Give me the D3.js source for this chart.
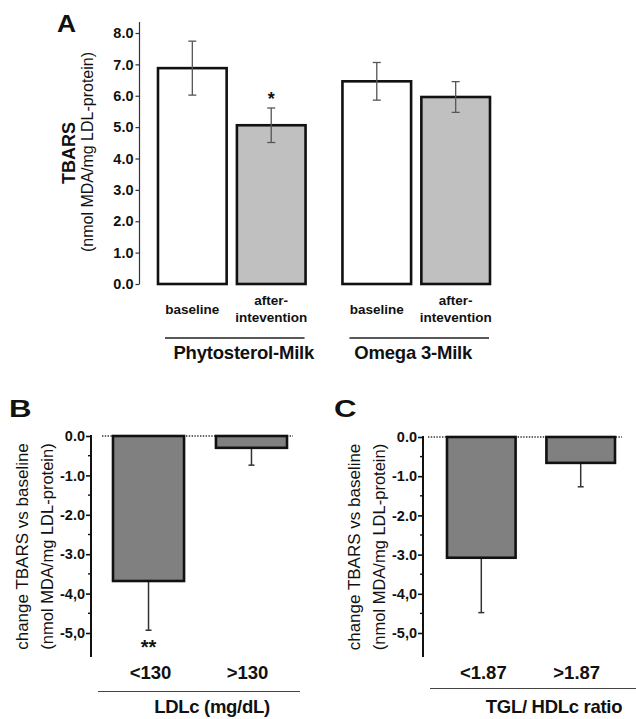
<!DOCTYPE html>
<html>
<head>
<meta charset="utf-8">
<script src="https://cdn.jsdelivr.net/npm/d3@7"></script>
<style>
  html, body { margin: 0; padding: 0; background: #fff; }
  svg { display: block; }
  text { font-family: "Liberation Sans", Arial, sans-serif; fill: #111; }
</style>
</head>
<body>
<div id="chart"></div>
<script>
// Panel A: TBARS by milk and period
const groupsA   = ['Phytosterol-Milk', 'Omega 3-Milk'];
const periodsA  = ['baseline', 'after-intevention'];
const meansA    = [[6.88, 5.06], [6.46, 5.96]];
const errorsA   = [[0.86, 0.55], [0.60, 0.49]];
const ticksA    = [0, 1, 2, 3, 4, 5, 6, 7, 8];

// Panel B: change by LDLc
const catsB     = ['<130', '>130'];
const changeB   = [-3.68, -0.30];
const errB      = [1.25, 0.44];

// Panel C: change by TGL/HDLc ratio
const catsC     = ['<1.87', '>1.87'];
const changeC   = [-3.08, -0.66];
const errC      = [1.40, 0.61];

const ticksBC      = [0, -1, -2, -3, -4, -5];
const tickLabelsBC = ['0.0', '-1.0', '-2.0', '-3.0', '-4,0', '-5,0'];
const minorBC      = [-0.5, -1.5, -2.5, -3.5, -4.5];

const W = 636, H = 719;
const svg = d3.select('#chart').append('svg')
  .attr('width', W).attr('height', H);

// ---------- Panel A ----------
const yA = d3.scaleLinear().domain([0, 8]).range([284, 33]);
const gx = d3.scaleBand().domain(groupsA).range([158, 490]).paddingInner(0.2);
const px = d3.scaleBand().domain(periodsA).range([0, gx.bandwidth()]).paddingInner(0.13);
const groupLabelShift = [12, -3];   // group titles sit a little off-centre in the original

const gA = svg.append('g');

gA.append('text').attr('transform', 'translate(57,32) scale(1.1,1)')
  .attr('font-size', 24).attr('font-weight', 'bold').text('A');

// y axis
gA.append('line').attr('x1', 139.5).attr('x2', 139.5).attr('y1', 22).attr('y2', yA(0))
  .attr('stroke', '#333').attr('stroke-width', 1.2);
const axA = gA.append('g').attr('transform', 'translate(139.5,0)')
  .call(d3.axisLeft(yA).tickValues(ticksA).tickSize(4).tickFormat(d3.format('.1f')));
axA.select('.domain').remove();
axA.selectAll('.tick line').attr('stroke', '#333').attr('stroke-width', 1.2);
axA.selectAll('.tick text').attr('font-size', 14.5).attr('font-weight', 'bold')
  .attr('font-family', '"Liberation Sans", Arial, sans-serif').attr('fill', '#111').attr('x', -6);

// y label
gA.append('text').attr('transform', `translate(75,${(yA(0) + 22) / 2}) rotate(-90)`)
  .attr('text-anchor', 'middle').attr('font-size', 18).attr('font-weight', 'bold').text('TBARS');
gA.append('text').attr('transform', `translate(93,${(yA(0) + 22) / 2 - 1}) rotate(-90)`)
  .attr('text-anchor', 'middle').attr('font-size', 16).text('(nmol MDA/mg LDL-protein)');

groupsA.forEach((grp, gi) => {
  const g0 = gx(grp);
  periodsA.forEach((per, pi) => {
    const x0 = g0 + px(per), bw = px.bandwidth();
    const v = meansA[gi][pi], e = errorsA[gi][pi];
    gA.append('rect')
      .attr('x', x0).attr('y', yA(v))
      .attr('width', bw).attr('height', yA(0) - yA(v))
      .attr('fill', pi === 0 ? '#fff' : '#c0c0c0')
      .attr('stroke', '#111').attr('stroke-width', 2.6);
    const cx = x0 + bw / 2;
    gA.append('line').attr('x1', cx).attr('x2', cx).attr('y1', yA(v + e)).attr('y2', yA(v - e))
      .attr('stroke', '#555').attr('stroke-width', 1.3);
    [v + e, v - e].forEach(t => gA.append('line')
      .attr('x1', cx - 4).attr('x2', cx + 4).attr('y1', yA(t)).attr('y2', yA(t))
      .attr('stroke', '#555').attr('stroke-width', 1.3));
    if (gi === 0 && pi === 1) {
      gA.append('text').attr('x', cx).attr('y', yA(v + e) - 3)
        .attr('text-anchor', 'middle').attr('font-size', 18).attr('font-weight', 'bold').text('*');
    }
    // category labels
    const lab = gA.append('text').attr('text-anchor', 'middle')
      .attr('font-family', '"Open Sans", sans-serif').attr('font-weight', 600).attr('font-size', 13.5);
    if (per === 'baseline') {
      lab.attr('x', cx).attr('y', 314).text('baseline');
    } else {
      lab.append('tspan').attr('x', cx).attr('y', 305).text('after-');
      lab.append('tspan').attr('x', cx).attr('y', 322).text('intevention');
    }
  });
  gA.append('line').attr('x1', g0 + 7).attr('x2', g0 + gx.bandwidth() - 1)
    .attr('y1', 338).attr('y2', 338).attr('stroke', '#222').attr('stroke-width', 1.3);
  gA.append('text').attr('x', g0 + gx.bandwidth() / 2 + groupLabelShift[gi]).attr('y', 359)
    .attr('text-anchor', 'middle').attr('font-size', 18.5).attr('font-weight', 'bold')
    .attr('letter-spacing', -0.2).text(grp);
});

// ---------- Panels B and C ----------
function changePanel(opt) {
  const g = svg.append('g');
  const y = d3.scaleLinear().domain([0, -5]).range([opt.y0, 633]);
  const x = d3.scaleBand().domain(opt.cats).range(opt.xr).paddingInner(0.31);

  g.append('text').attr('transform', `translate(${opt.letterX},417) scale(1.3,1)`)
    .attr('font-size', 24).attr('font-weight', 'bold').text(opt.letter);

  // dotted zero line
  g.append('line').attr('x1', opt.dot[0]).attr('x2', opt.dot[1])
    .attr('y1', y(0)).attr('y2', y(0))
    .attr('stroke', '#333').attr('stroke-width', 1.3).attr('stroke-dasharray', '1.4 1.4');

  // axis
  g.append('line').attr('x1', opt.axX).attr('x2', opt.axX).attr('y1', y(0) - 1).attr('y2', 657)
    .attr('stroke', '#111').attr('stroke-width', 2);
  const ax = g.append('g').attr('transform', `translate(${opt.axX},0)`)
    .call(d3.axisLeft(y).tickValues(ticksBC).tickSize(5).tickFormat((d, i) => tickLabelsBC[i]));
  ax.select('.domain').remove();
  ax.selectAll('.tick line').attr('stroke', '#111').attr('stroke-width', 1.6);
  ax.selectAll('.tick text').attr('font-size', 14.5).attr('font-weight', 'bold')
    .attr('font-family', '"Liberation Sans", Arial, sans-serif').attr('fill', '#111').attr('x', -6);
  minorBC.forEach(m => g.append('line')
    .attr('x1', opt.axX - 3).attr('x2', opt.axX).attr('y1', y(m)).attr('y2', y(m))
    .attr('stroke', '#111').attr('stroke-width', 1.4));

  // y label
  const yc = (y(0) + 657) / 2;
  g.append('text').attr('transform', `translate(${opt.axX - 63},${yc}) rotate(-90)`)
    .attr('text-anchor', 'middle').attr('font-size', 17).text('change TBARS vs baseline');
  g.append('text').attr('transform', `translate(${opt.axX - 38},${yc}) rotate(-90)`)
    .attr('text-anchor', 'middle').attr('font-size', 16.5).text('(nmol MDA/mg LDL-protein)');

  opt.cats.forEach((c, i) => {
    const v = opt.vals[i], e = opt.errs[i];
    const x0 = x(c), bw = x.bandwidth(), cx = x0 + bw / 2;
    // error bar (downward only)
    g.append('line').attr('x1', cx).attr('x2', cx).attr('y1', y(v)).attr('y2', y(v - e))
      .attr('stroke', '#333').attr('stroke-width', 1.5);
    g.append('line').attr('x1', cx - 3).attr('x2', cx + 3).attr('y1', y(v - e)).attr('y2', y(v - e))
      .attr('stroke', '#333').attr('stroke-width', 1.5);
    g.append('rect').attr('x', x0).attr('y', y(0))
      .attr('width', bw).attr('height', y(v) - y(0))
      .attr('fill', '#808080').attr('stroke', '#111').attr('stroke-width', 2.6);
    g.append('text').attr('x', cx + (i === 0 ? 2 : -4)).attr('y', 679)
      .attr('text-anchor', 'middle').attr('font-size', 18.5).attr('font-weight', 'bold').text(c);
    if (opt.star && i === 0) {
      g.append('text').attr('x', cx).attr('y', y(v - e) + 24)
        .attr('text-anchor', 'middle').attr('font-size', 20).attr('font-weight', 'bold').text('**');
    }
  });

  g.append('line').attr('x1', opt.line[0]).attr('x2', opt.line[1])
    .attr('y1', opt.line[2]).attr('y2', opt.line[2]).attr('stroke', '#444').attr('stroke-width', 1.2);
  g.append('text').attr('x', opt.titleX).attr('y', 713)
    .attr('text-anchor', 'middle').attr('font-size', 18.5).attr('font-weight', 'bold')
    .attr('letter-spacing', opt.ls).text(opt.title);
}

changePanel({
  letter: 'B', letterX: 9, cats: catsB, vals: changeB, errs: errB,
  y0: 436, xr: [113, 287], axX: 91, dot: [102, 293], star: true,
  line: [98, 300, 691.5], title: 'LDLc (mg/dL)', titleX: 212, ls: -0.3
});
changePanel({
  letter: 'C', letterX: 334, cats: catsC, vals: changeC, errs: errC,
  y0: 437, xr: [447, 615], axX: 423, dot: [428, 622], star: false,
  line: [430, 636, 688.5], title: 'TGL/ HDLc ratio', titleX: 554, ls: -0.3
});
</script>
</body>
</html>
